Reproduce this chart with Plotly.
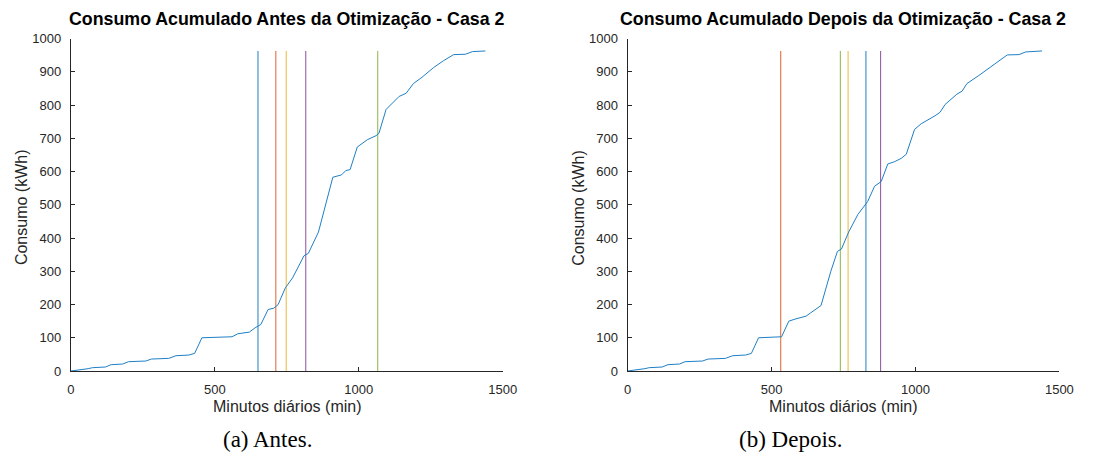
import plotly.graph_objects as go

# Cumulative consumption (kWh) over the day (minutes) - Casa 2
minutos_antes = [0, 20, 30, 60, 75, 120, 140, 180, 200, 260, 280, 340, 365, 410, 430, 455,
                 560, 580, 620, 640, 660, 685, 705, 720, 745, 770, 810, 825, 860, 885,
                 910, 940, 955, 970, 995, 1030, 1060, 1070, 1095, 1140, 1165, 1190, 1220,
                 1260, 1295, 1330, 1370, 1395, 1440]
consumo_antes = [0, 2, 5, 7, 10, 12, 19, 21, 28, 30, 36, 38, 46, 48, 53, 100,
                 103, 112, 117, 130, 140, 185, 189, 200, 250, 280, 347, 354, 418, 500,
                 583, 590, 603, 606, 674, 696, 708, 715, 787, 826, 836, 865, 884,
                 913, 934, 952, 953, 961, 963]

minutos_depois = [0, 20, 30, 60, 75, 120, 140, 180, 200, 260, 280, 340, 365, 410, 430, 455,
                  535, 560, 585, 620, 636, 660, 672, 706, 729, 743, 768, 800, 834, 858,
                  881, 904, 928, 951, 968, 997, 1020, 1068, 1085, 1103, 1144, 1162, 1179,
                  1220, 1261, 1290, 1319, 1360, 1383, 1440]
consumo_depois = [0, 2, 5, 7, 10, 12, 19, 21, 28, 30, 36, 38, 46, 48, 53, 100,
                  103, 150, 157, 165, 175, 190, 197, 300, 360, 367, 418, 471, 510, 556,
                  570, 623, 630, 640, 652, 727, 744, 768, 778, 802, 833, 842, 865,
                  889, 915, 934, 951, 952, 960, 963]

# Start times of the five appliances (min), in the same colour order
inicio_antes = [650, 712, 748, 816, 1066]
inicio_depois = [828, 532, 766, 879, 739]
cores = ["#1f7fc4", "#e0622e", "#eab93a", "#8e4f9e", "#88b644"]

W, H = 1096, 470
fig = go.Figure()

def add_panel(fig, xs, ys, inicios, xa, ya):
    topo = max(ys)
    for v, c in zip(inicios, cores):
        fig.add_trace(go.Scatter(x=[v, v], y=[0, topo], mode="lines",
                                 line=dict(color=c, width=1),
                                 xaxis=xa, yaxis=ya, showlegend=False, hoverinfo="skip"))
    fig.add_trace(go.Scatter(x=xs, y=ys, mode="lines",
                             line=dict(color="#1f7fc4", width=1),
                             xaxis=xa, yaxis=ya, showlegend=False))

add_panel(fig, minutos_antes, consumo_antes, inicio_antes, "x", "y")
add_panel(fig, minutos_depois, consumo_depois, inicio_depois, "x2", "y2")

eixo_cor = "#262626"
tick_font = dict(family="Liberation Sans, Arial, sans-serif", size=13, color="#262626")
ydom = [1 - 376 / H, 1 - 32.7 / H]
common_x = dict(range=[0, 1500], tickvals=[0, 500, 1000, 1500], showline=True,
                linecolor=eixo_cor, linewidth=1, ticks="inside", ticklen=4,
                tickcolor=eixo_cor, showgrid=False, zeroline=False, tickfont=tick_font,
                ticklabelstandoff=6)
common_y = dict(range=[0, 1000], dtick=100, showline=True, linecolor=eixo_cor,
                linewidth=1, ticks="inside", ticklen=4, tickcolor=eixo_cor,
                showgrid=False, zeroline=False, tickfont=tick_font, domain=ydom,
                ticklabelstandoff=6)

fig.update_layout(
    width=W, height=H, margin=dict(l=0, r=0, t=0, b=0),
    paper_bgcolor="white", plot_bgcolor="white",
    xaxis=dict(domain=[68 / W, 507 / W], anchor="y", **common_x),
    yaxis=dict(anchor="x", **common_y),
    xaxis2=dict(domain=[634 / W, 1073 / W], anchor="y2", **common_x),
    yaxis2=dict(anchor="x2", **common_y),
)

title_font = dict(family="Liberation Sans, Arial, sans-serif", size=17.8, color="black")
label_font = dict(family="Liberation Sans, Arial, sans-serif", size=16, color="#262626")
caption_font = dict(family="Liberation Serif, Times New Roman, serif", size=23, color="black")

annots = [
    dict(text="<b>Consumo Acumulado Antes da Otimização - Casa 2</b>", x=287.5, y=12, font=title_font),
    dict(text="<b>Consumo Acumulado Depois da Otimização - Casa 2</b>", x=853.5, y=12, font=title_font),
    dict(text="Minutos diários (min)", x=287.5, y=413, font=label_font),
    dict(text="Minutos diários (min)", x=853.5, y=413, font=label_font),
    dict(text="Consumo (kWh)", x=18, y=207, font=label_font, textangle=-90),
    dict(text="Consumo (kWh)", x=584, y=207, font=label_font, textangle=-90),
    dict(text="(a) Antes.", x=268, y=447, font=caption_font),
    dict(text="(b) Depois.", x=800, y=447, font=caption_font),
]
for a in annots:
    fig.add_annotation(xref="paper", yref="paper", x=a["x"] / W, y=1 - a["y"] / H,
                       text=a["text"], showarrow=False, font=a["font"],
                       textangle=a.get("textangle", 0), xanchor="center", yanchor="middle")

fig.write_html("out.html")
